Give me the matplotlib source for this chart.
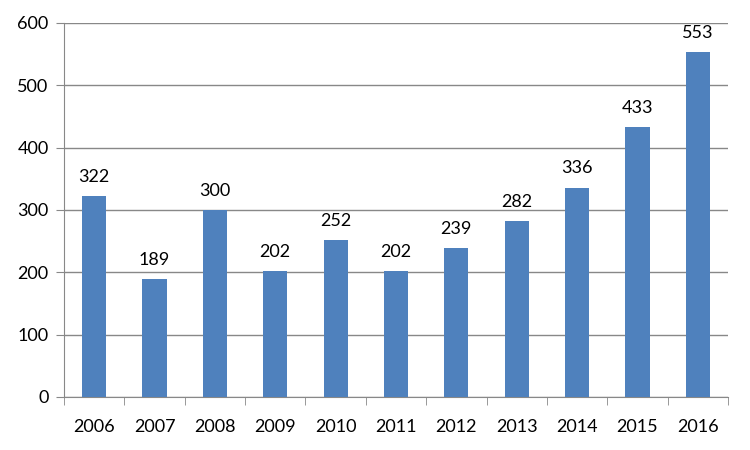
import matplotlib
matplotlib.use("Agg")
import matplotlib.pyplot as plt
import numpy as np

years = ["2006", "2007", "2008", "2009", "2010", "2011", "2012", "2013", "2014", "2015", "2016"]
values = [322, 189, 300, 202, 252, 202, 239, 282, 336, 433, 553]
yticks = [0, 100, 200, 300, 400, 500, 600]

plt.rcParams['font.family'] = ['Lato', 'DejaVu Sans']

fig = plt.figure(figsize=(7.5, 4.5), dpi=100)
ax = fig.add_axes([0.0853, 0.1178, 0.8854, 0.8311])

x = np.arange(len(years))
bars = ax.bar(x, values, width=0.4, color="#4F81BD", zorder=3)
for xi, v in zip(x, values):
    ax.annotate(str(v), (xi, v), xytext=(0, 8), textcoords="offset points",
                ha="center", va="bottom", fontsize=13, color="black")

ax.set_xlim(-0.5, len(years) - 0.5)
ax.set_ylim(0, 600)
ax.set_yticks(yticks)
ax.set_yticklabels([str(t) for t in yticks], fontsize=13)
ax.set_xticks(x)
ax.set_xticklabels(years, fontsize=13)
ax.tick_params(axis="x", length=0, pad=16)
ax.set_xticks(np.arange(-0.5, len(years), 1), minor=True)
ax.tick_params(axis="x", which="minor", length=6, color="#888888", direction="out")
ax.tick_params(axis="y", length=6, color="#888888", pad=5)

ax.grid(axis="y", color="#888888", linewidth=1, zorder=0)
for s in ["top", "right"]:
    ax.spines[s].set_visible(False)
for s in ["left", "bottom"]:
    ax.spines[s].set_color("#888888")

fig.savefig("out.png", dpi=100)
